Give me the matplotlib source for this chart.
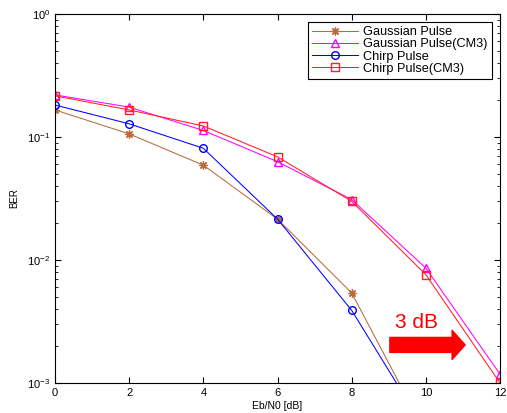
import matplotlib.pyplot as plt
from matplotlib.ticker import LogLocator, NullFormatter

plt.rcParams['font.family'] = ['Liberation Sans', 'DejaVu Sans']
plt.rcParams['mathtext.fontset'] = 'custom'
plt.rcParams['mathtext.rm'] = 'Liberation Sans'

# Eb/N0 points (dB) and BER for each pulse type
ebn0 = [0, 2, 4, 6, 8, 10]
ebn0_cm3 = [0, 2, 4, 6, 8, 10, 12]
ber_gauss = [0.166, 0.106, 0.059, 0.0215, 0.0054, 0.00039]
ber_gauss_cm3 = [0.22, 0.175, 0.113, 0.063, 0.031, 0.0086, 0.00118]
ber_chirp = [0.182, 0.128, 0.081, 0.0215, 0.0039, 0.00041]
ber_chirp_cm3 = [0.216, 0.166, 0.123, 0.069, 0.030, 0.0076, 0.0010]

labels = ['Gaussian Pulse', 'Gaussian Pulse(CM3)', 'Chirp Pulse', 'Chirp Pulse(CM3)']

fig = plt.figure(figsize=(5.07, 4.13), dpi=100)
ax = fig.add_axes([0.1085, 0.0726, 0.8777, 0.8935])

lw = 0.75
ax.semilogy(ebn0, ber_gauss, color='#B86B3C', marker=(8, 2, 0), ms=6, lw=lw,
            mew=0.9, label=labels[0])
ax.semilogy(ebn0_cm3, ber_gauss_cm3, color='#FF00FF', marker='^', ms=6, lw=lw,
            mfc='none', label=labels[1])
ax.semilogy(ebn0, ber_chirp, color='#0000FF', marker='o', ms=5.5, lw=lw,
            mfc='none', label=labels[2])
ax.semilogy(ebn0_cm3, ber_chirp_cm3, color='#FF2020', marker='s', ms=5.5, lw=lw,
            mfc='none', label=labels[3])

ax.set_xlim(0, 12)
ax.set_ylim(1e-3, 1)
ax.set_xticks(range(0, 13, 2))
ax.yaxis.set_minor_locator(LogLocator(base=10, subs=range(2, 10)))
ax.yaxis.set_minor_formatter(NullFormatter())
ax.tick_params(which='both', direction='in', top=True, right=True, labelsize=8)
ax.tick_params(which='major', length=4)
ax.tick_params(which='minor', length=2)
for s in ax.spines.values():
    s.set_linewidth(0.8)

ax.set_xlabel('Eb/N0 [dB]', fontsize=7.5, labelpad=2)
ax.set_ylabel('BER', fontsize=7, labelpad=6)

leg = ax.legend(loc='upper right', fontsize=9.2, fancybox=False, framealpha=1,
                edgecolor='black', borderaxespad=0.6, handlelength=3.6,
                labelspacing=0.02, borderpad=0.35, handletextpad=0.4)
leg.get_frame().set_linewidth(0.8)

# 3 dB shift arrow
ax.annotate('', xy=(11.06, 0.00204), xytext=(9.03, 0.00204),
            arrowprops=dict(arrowstyle='simple,head_length=0.94,head_width=2.1,tail_width=1.08',
                            color='red', shrinkA=0, shrinkB=0, mutation_scale=10))
ax.text(9.76, 0.0031, '3 dB', color='red', fontsize=15, ha='center', va='center')

fig.savefig('out.png', dpi=100)
